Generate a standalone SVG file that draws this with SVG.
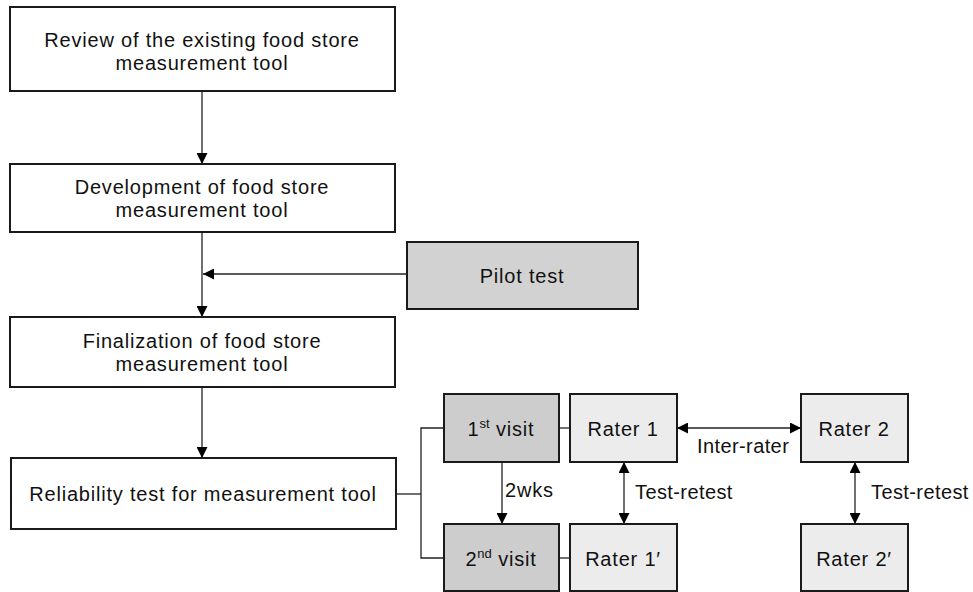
<svg xmlns="http://www.w3.org/2000/svg" width="973" height="592" viewBox="0 0 973 592">
<defs>
<marker id="ah" viewBox="0 0 10 10" refX="10" refY="5" markerWidth="11" markerHeight="11" markerUnits="userSpaceOnUse" orient="auto-start-reverse">
<path d="M0,0 L10,5 L0,10 Z" fill="#000"/>
</marker>
<style>
.box{stroke:#1a1a1a;stroke-width:2;fill:#fff}
.dark{fill:#cdcdcd}
.pilot{fill:#d2d2d2}
.light{fill:#ececec}
text{font-family:"Liberation Sans","Open Sans",sans-serif;font-size:20px;letter-spacing:0.8px;fill:#111}
.c{text-anchor:middle}
.lbl{letter-spacing:0.4px}
.ln{stroke:#222;stroke-width:1.3;fill:none}
.arr{stroke:#222;stroke-width:1.3;fill:none;marker-end:url(#ah)}
.arr2{stroke:#222;stroke-width:1.3;fill:none;marker-end:url(#ah);marker-start:url(#ah)}
.sup{font-size:13px;letter-spacing:0}
</style>
</defs>
<rect width="973" height="592" fill="#fff"/>
<g id="connectors">
<line class="arr" x1="202" y1="91" x2="202" y2="164"/>
<line class="arr" x1="202" y1="232" x2="202" y2="317"/>
<line class="arr" x1="407" y1="274" x2="203" y2="274"/>
<line class="arr" x1="202" y1="387" x2="202" y2="458"/>
<polyline class="ln" points="396,494 421,494"/>
<polyline class="ln" points="444,428 421,428 421,558 444,558"/>
<line class="ln" x1="559" y1="428" x2="570" y2="428"/>
<line class="ln" x1="559" y1="558" x2="570" y2="558"/>
<line class="arr" x1="502" y1="462" x2="502" y2="524"/>
<line class="arr2" x1="624" y1="462" x2="624" y2="524"/>
<line class="arr2" x1="677" y1="428" x2="801" y2="428"/>
<line class="arr2" x1="855" y1="462" x2="855" y2="524"/>
<text x="505" y="497" font-size="19">2wks</text>
<text class="lbl" x="635" y="499">Test-retest</text>
<text class="lbl" x="697" y="453">Inter-rater</text>
<text class="lbl" x="871" y="499">Test-retest</text>
</g>
<g id="review">
<rect class="box" x="10" y="7" width="385" height="84"/>
<text class="c" x="202" y="47">Review of the existing food store<tspan x="202" dy="23">measurement tool</tspan></text>
</g>
<g id="development">
<rect class="box" x="10" y="164" width="385" height="68"/>
<text class="c" x="202" y="194">Development of food store<tspan x="202" dy="23">measurement tool</tspan></text>
</g>
<g id="pilot">
<rect class="box pilot" x="407" y="242" width="231" height="67"/>
<text class="c" x="522" y="283">Pilot test</text>
</g>
<g id="finalization">
<rect class="box" x="10" y="317" width="385" height="70"/>
<text class="c" x="202" y="348">Finalization of food store<tspan x="202" dy="23">measurement tool</tspan></text>
</g>
<g id="reliability">
<rect class="box" x="11" y="458" width="385" height="71"/>
<text class="c" x="203" y="501">Reliability test for measurement tool</text>
</g>
<g id="visit1">
<rect class="box dark" x="444" y="394" width="115" height="68"/>
<text class="c" x="501" y="436">1<tspan class="sup" dy="-8">st</tspan><tspan dy="8"> visit</tspan></text>
</g>
<g id="visit2">
<rect class="box dark" x="444" y="524" width="115" height="67"/>
<text class="c" x="501" y="566">2<tspan class="sup" dy="-8">nd</tspan><tspan dy="8"> visit</tspan></text>
</g>
<g id="rater1">
<rect class="box light" x="570" y="394" width="107" height="68"/>
<text class="c" x="623" y="436">Rater 1</text>
</g>
<g id="rater1p">
<rect class="box light" x="570" y="524" width="107" height="67"/>
<text class="c" x="623" y="566">Rater 1′</text>
</g>
<g id="rater2">
<rect class="box light" x="801" y="394" width="107" height="68"/>
<text class="c" x="854" y="436">Rater 2</text>
</g>
<g id="rater2p">
<rect class="box light" x="801" y="524" width="107" height="67"/>
<text class="c" x="854" y="566">Rater 2′</text>
</g>
</svg>
